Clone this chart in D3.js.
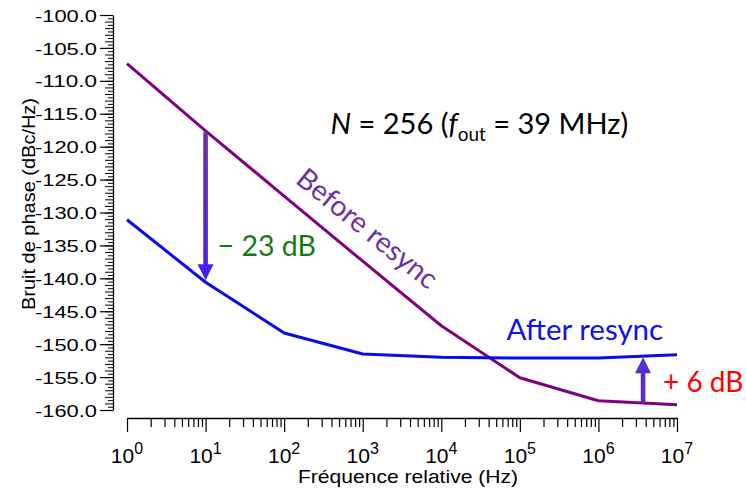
<!DOCTYPE html>
<html>
<head>
<meta charset="utf-8">
<script src="https://cdn.jsdelivr.net/npm/d3@7"></script>
<style>
  body { margin: 0; background: #fff; }
  svg { display: block; }
</style>
</head>
<body>
<svg id="chart"></svg>
<script>
// decades on the x axis (relative frequency, Hz)
const freqs = [1, 10, 100, 1e3, 1e4, 1e5, 1e6, 1e7];
const beforeResync = [-107.4, -117.6, -127.5, -137.4, -147.2, -155.1, -158.6, -159.2];
const afterResync = [-131.1, -140.6, -148.3, -151.5, -152.0, -152.1, -152.1, -151.6];
const yTicks = d3.range(-100, -160.1, -5);

// arrows: [freq, from dB, to dB]
const arrowDown = [10, -117.8, -140.3];
const arrowUp = [3.7e6, -158.9, -152.0];

const width = 746, height = 489;
const margin = { top: 15, right: 69, bottom: 79, left: 127 };

const svg = d3.select('#chart').attr('width', width).attr('height', height);

const x = d3.scaleLog().domain([1, 1e7]).range([margin.left, width - margin.right]);
const y = d3.scaleLinear().domain([-160, -100]).range([height - margin.bottom, margin.top]);

const axisFont = '"Liberation Sans", Arial, sans-serif';
const noteFont = 'Lato, "Open Sans", sans-serif';

// ---- y axis (offset left of the plot) ----
const yAxisX = 113;
const yg = svg.append('g').attr('transform', `translate(${yAxisX},0)`);
yg.append('g')
  .call(d3.axisLeft(y).tickValues(d3.range(-159.5, -100, 1)).tickSize(5).tickFormat(''))
  .call((g) => g.select('.domain').remove())
  .call((g) => g.selectAll('.tick line').attr('stroke', '#000').attr('stroke-width', 1));
yg.append('g')
  .call(d3.axisLeft(y).tickValues(d3.range(-159, -100, 1)).tickSize(8).tickFormat(''))
  .call((g) => g.select('.domain').remove())
  .call((g) => g.selectAll('.tick line').attr('stroke', '#000').attr('stroke-width', 1));
yg.append('g')
  .call(d3.axisLeft(y).tickValues(yTicks).tickSize(13).tickFormat((d) => d.toFixed(1)).tickSizeOuter(0))
  .call((g) => g.select('.domain').attr('stroke', '#000').attr('stroke-width', 1.3))
  .call((g) => g.selectAll('.tick line').attr('stroke', '#000').attr('stroke-width', 1.2))
  .call((g) => g.selectAll('.tick text')
    .attr('x', -16).attr('dy', '0.36em')
    .attr('textLength', 62).attr('lengthAdjust', 'spacingAndGlyphs')
    .attr('font-family', axisFont).attr('font-size', 17).attr('fill', '#000'));

svg.append('text')
  .attr('transform', `translate(35,204) rotate(-90)`)
  .attr('text-anchor', 'middle')
  .attr('font-family', axisFont).attr('font-size', 18)
  .attr('textLength', 212).attr('lengthAdjust', 'spacingAndGlyphs')
  .text('Bruit de phase (dBc/Hz)');

// ---- x axis (offset below) ----
const xAxisY = 418;
const minor = [];
for (let e = 0; e < 7; e++) for (let m = 2; m < 10; m++) minor.push(m * Math.pow(10, e));
const xg = svg.append('g').attr('transform', `translate(0,${xAxisY})`);
xg.append('g')
  .call(d3.axisBottom(x).tickValues(minor).tickSize(9).tickFormat(''))
  .call((g) => g.select('.domain').remove())
  .call((g) => g.selectAll('.tick line').attr('stroke', '#000').attr('stroke-width', 1.2));
xg.append('g')
  .call(d3.axisBottom(x).tickValues(freqs).tickSize(14).tickFormat('').tickSizeOuter(0))
  .call((g) => g.select('.domain').attr('stroke', '#000').attr('stroke-width', 1.3))
  .call((g) => g.selectAll('.tick line').attr('stroke', '#000').attr('stroke-width', 1.2));

const xl = svg.append('g').selectAll('text').data(freqs).join('text')
  .attr('x', (d) => x(d))
  .attr('y', 463)
  .attr('font-family', axisFont).attr('font-size', 21)
  .attr('text-anchor', 'middle');
xl.append('tspan').text('10');
xl.append('tspan').attr('dy', -9).attr('dx', 0).attr('font-size', 16).text((d) => Math.round(Math.log10(d)));

svg.append('text')
  .attr('x', 298)
  .attr('y', 483)
  .attr('font-family', axisFont).attr('font-size', 18.5)
  .attr('textLength', 220).attr('lengthAdjust', 'spacingAndGlyphs')
  .text('Fréquence relative (Hz)');

// ---- series ----
const line = d3.line().x((d) => x(d[0])).y((d) => y(d[1]));
svg.append('path')
  .datum(d3.zip(freqs, beforeResync))
  .attr('d', line)
  .attr('fill', 'none').attr('stroke', '#800080').attr('stroke-width', 3).attr('stroke-linejoin', 'round');
svg.append('path')
  .datum(d3.zip(freqs, afterResync))
  .attr('d', line)
  .attr('fill', 'none').attr('stroke', '#0a0af0').attr('stroke-width', 3).attr('stroke-linejoin', 'round');

// ---- arrows ----
const defs = svg.append('defs');
const grad = defs.append('linearGradient').attr('id', 'gDown')
  .attr('x1', 0).attr('y1', 0).attr('x2', 0).attr('y2', 1);
grad.append('stop').attr('offset', '0%').attr('stop-color', '#7030a0');
grad.append('stop').attr('offset', '100%').attr('stop-color', '#4420f0');

function arrow([f, from, to], fill) {
  const ax = x(f), y0 = y(from), y1 = y(to);
  const dir = Math.sign(y1 - y0);
  const head = 16, hw = 8, sw = 2.3;
  const yb = y1 - dir * head;
  svg.append('path')
    .attr('d', `M${ax - sw},${y0} L${ax + sw},${y0} L${ax + sw},${yb} L${ax + hw},${yb} L${ax},${y1} L${ax - hw},${yb} L${ax - sw},${yb} Z`)
    .attr('fill', fill);
}
arrow(arrowDown, 'url(#gDown)');
arrow(arrowUp, '#5530d0');

// ---- annotations ----
const title = svg.append('text')
  .attr('x', x(10 ** 2.59)).attr('y', 134)
  .attr('font-family', noteFont).attr('font-size', 29).attr('fill', '#000');
title.append('tspan').attr('font-style', 'italic').text('N');
title.append('tspan').text(' = 256 (');
title.append('tspan').attr('font-style', 'italic').text('f');
title.append('tspan').attr('font-size', 19).attr('dy', 7).text('out');
title.append('tspan').attr('dy', -7).text(' = 39 MHz)');

svg.append('text')
  .attr('transform', `translate(${x(10 ** 2.98)},${y(-133.6)}) rotate(39)`)
  .attr('text-anchor', 'middle')
  .attr('font-family', noteFont).attr('font-size', 28.5).attr('fill', '#7030a0')
  .text('Before resync');

svg.append('text')
  .attr('x', x(10) + 12).attr('y', y(-136.6))
  .attr('font-family', noteFont).attr('font-size', 28.5).attr('fill', '#137a13')
  .text('\u2212 23 dB');

svg.append('text')
  .attr('x', x(10 ** 4.83)).attr('y', 340)
  .attr('font-family', noteFont).attr('font-size', 29.5).attr('fill', '#1010f0')
  .text('After resync');

svg.append('text')
  .attr('x', 663).attr('y', 392)
  .attr('font-family', noteFont).attr('font-size', 28).attr('fill', '#ff0000')
  .text('+ 6 dB');
</script>
</body>
</html>
